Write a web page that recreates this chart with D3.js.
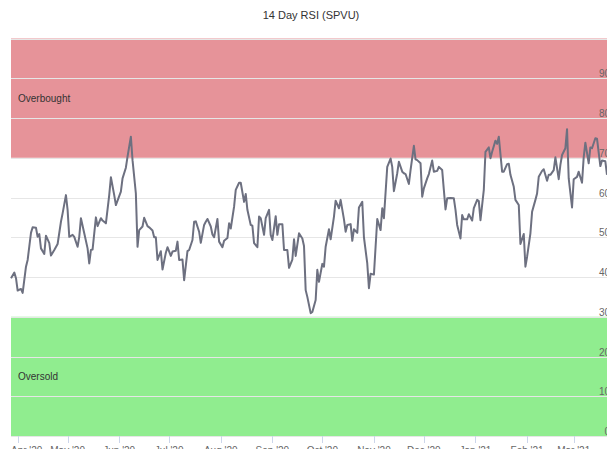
<!DOCTYPE html>
<html>
<head>
<meta charset="utf-8">
<script src="https://cdnjs.cloudflare.com/ajax/libs/d3/7.8.5/d3.min.js"></script>
<style>
    body { margin: 0; background: #fff; overflow: hidden; }
    svg { display: block; font-family: "Liberation Sans", Arial, sans-serif; }
</style>
</head>
<body>
<div id="chart"></div>
<script>

// Data
var title = "14 Day RSI (SPVU)";

var dates = [
    "2020-03-28","2020-03-30","2020-03-31","2020-04-01","2020-04-03","2020-04-04","2020-04-06","2020-04-07","2020-04-09","2020-04-10","2020-04-12","2020-04-13","2020-04-14","2020-04-15","2020-04-17","2020-04-18","2020-04-20","2020-04-21","2020-04-23","2020-04-25","2020-04-27","2020-04-28","2020-04-30",
    "2020-05-01","2020-05-02","2020-05-04","2020-05-05","2020-05-07","2020-05-08","2020-05-09","2020-05-11","2020-05-13","2020-05-14","2020-05-15","2020-05-16","2020-05-18","2020-05-19","2020-05-21","2020-05-22","2020-05-24","2020-05-26","2020-05-27","2020-05-29","2020-05-30",
    "2020-06-02","2020-06-03","2020-06-05","2020-06-06","2020-06-08","2020-06-09","2020-06-11","2020-06-12","2020-06-13","2020-06-15","2020-06-16","2020-06-18","2020-06-19","2020-06-21","2020-06-22","2020-06-23","2020-06-24","2020-06-26","2020-06-27","2020-06-29","2020-06-30",
    "2020-07-02","2020-07-03","2020-07-05","2020-07-06","2020-07-07","2020-07-09","2020-07-10","2020-07-12","2020-07-13","2020-07-15","2020-07-16","2020-07-17","2020-07-19","2020-07-20","2020-07-22","2020-07-23","2020-07-24","2020-07-26","2020-07-27","2020-07-28","2020-07-30","2020-07-31",
    "2020-08-02","2020-08-03","2020-08-05","2020-08-06","2020-08-07","2020-08-09","2020-08-10","2020-08-12","2020-08-13","2020-08-15","2020-08-16","2020-08-17","2020-08-19","2020-08-20","2020-08-21","2020-08-23","2020-08-24","2020-08-25","2020-08-27","2020-08-28","2020-08-30","2020-08-31",
    "2020-09-01","2020-09-03","2020-09-04","2020-09-05","2020-09-07","2020-09-08","2020-09-10","2020-09-11","2020-09-13","2020-09-14","2020-09-15","2020-09-17","2020-09-19","2020-09-20","2020-09-21","2020-09-22","2020-09-24","2020-09-25","2020-09-27","2020-09-28","2020-09-29",
    "2020-10-01","2020-10-02","2020-10-03","2020-10-05","2020-10-06","2020-10-08","2020-10-09","2020-10-11","2020-10-12","2020-10-14","2020-10-15","2020-10-16","2020-10-18","2020-10-19","2020-10-20","2020-10-22","2020-10-23","2020-10-25","2020-10-26","2020-10-28","2020-10-29","2020-10-30",
    "2020-11-01","2020-11-02","2020-11-03","2020-11-05","2020-11-06","2020-11-07","2020-11-09","2020-11-11","2020-11-12","2020-11-13","2020-11-15","2020-11-16","2020-11-18","2020-11-19","2020-11-20","2020-11-22","2020-11-23","2020-11-25","2020-11-26","2020-11-27","2020-11-29","2020-11-30",
    "2020-12-01","2020-12-03","2020-12-04","2020-12-06","2020-12-07","2020-12-09","2020-12-10","2020-12-12","2020-12-13","2020-12-14","2020-12-15","2020-12-17","2020-12-19","2020-12-20","2020-12-21","2020-12-23","2020-12-24","2020-12-25","2020-12-27","2020-12-28","2020-12-30","2020-12-31",
    "2021-01-02","2021-01-03","2021-01-04","2021-01-06","2021-01-07","2021-01-09","2021-01-10","2021-01-11","2021-01-13","2021-01-14","2021-01-15","2021-01-17","2021-01-18","2021-01-20","2021-01-21","2021-01-22","2021-01-24","2021-01-25","2021-01-27","2021-01-28","2021-01-30","2021-01-31",
    "2021-02-01","2021-02-03","2021-02-04","2021-02-06","2021-02-07","2021-02-08","2021-02-10","2021-02-11","2021-02-13","2021-02-14","2021-02-15","2021-02-17","2021-02-18","2021-02-20","2021-02-21","2021-02-22","2021-02-24","2021-02-25","2021-02-26","2021-02-28",
    "2021-03-01","2021-03-03","2021-03-04","2021-03-06","2021-03-07","2021-03-08","2021-03-10","2021-03-11","2021-03-12","2021-03-14","2021-03-15","2021-03-17","2021-03-18","2021-03-20","2021-03-21"
];

var rsi = [
    39.7, 41.1, 39.7, 36.6, 37, 36, 42.6, 44.3, 51.1, 52.5, 52.4, 50.1, 50.8, 47.2, 45.8, 50.4, 48.5, 45.4, 46.8, 48.3, 53.9, 56, 60.6,
    56.9, 50.1, 50.6, 50.1, 47.6, 50.1, 54.8, 51, 47.2, 43.4, 46.8, 46.9, 55, 52.8, 54.8, 54.2, 53.5, 60.6, 65.1, 60.6, 58.1,
    61.5, 64.8, 67.5, 70.3, 75.3, 69.4, 61, 47.6, 51.8, 52.7, 54.9, 52.8, 52.5, 51.7, 50, 50, 44.3, 46.5, 41.9, 46.1, 47.5,
    45.3, 46.4, 46.6, 48.9, 44.3, 44.4, 39.2, 46.5, 46.8, 49.3, 53.9, 54, 51.4, 48.6, 53.1, 53.9, 54.6, 52.7, 50.7, 50, 54.6, 48.9,
    47.5, 49.1, 49.8, 53.5, 52.2, 57.7, 61.9, 63.7, 63.7, 58.9, 60.9, 56.9, 53.1, 52.9, 48.5, 47.5, 55.2, 54.8, 50.6, 54.8, 56.9, 50.6,
    49.3, 55.3, 50.6, 53.3, 53.3, 46.8, 46.8, 42.3, 44.4, 49.5, 45.3, 51, 49.7, 47.8, 36.7, 35, 30.9, 31.2, 34.2, 41.8, 38.8,
    43.3, 42.6, 47.6, 52, 49.5, 55.2, 59.2, 57.3, 59.4, 54.5, 51.4, 53.1, 53.3, 49.1, 52, 51.1, 57.5, 58.9, 50, 43.4, 37.2, 40.8,
    40.6, 47.6, 54.6, 51.8, 57.3, 54.8, 67.7, 69.8, 67.7, 61.6, 66.1, 69, 66.5, 66.1, 65.9, 63.4, 66.9, 73, 69.6, 69.4, 68.6, 60.2,
    62.3, 64.8, 65.9, 69.3, 66.5, 66.7, 67.7, 66.9, 61.9, 57, 59.8, 59.9, 59.8, 56.9, 53.1, 49.7, 55.6, 54.5, 54.5, 55.8, 54.2, 57.3,
    59.4, 59.1, 54.3, 61.9, 71.5, 72.6, 69.9, 71.5, 74.3, 73.5, 75.3, 66.5, 66.5, 68.4, 68.5, 65.7, 62.7, 59.4, 58.1, 48.3, 50.8, 42.6,
    45.1, 51, 56.4, 59.4, 61, 65.2, 66.7, 67.1, 64.2, 65.7, 65.7, 66.9, 70.1, 64.6, 68.2, 70.7, 72.4, 77.2, 64.8, 57.5,
    64.6, 65.2, 66.5, 63.7, 70.1, 73.8, 68.6, 72.6, 72.4, 74.9, 74.8, 67.9, 69.3, 69.1, 65.7
];

var yTicks = [0, 10, 20, 30, 40, 50, 60, 70, 80, 90, 100];

// zones drawn behind the line
var bandNames = ["Overbought", "Oversold"];
var bandFrom = [70, 0];
var bandTo = [100, 30];

var xStart = "2020-03-28",
    xEnd = "2021-03-21";

// SVG drawing area
var width = 607,
    height = 449;

var plot = { left: 11, right: 607, top: 38.5, bottom: 436 };

var bandColors = ["#e69399", "#90ed8f"];

var parseDate = d3.timeParse("%Y-%m-%d");

var data = dates.map(function(d, i) {
    return { date: parseDate(d), value: rsi[i] };
});

var svg = d3.select("#chart").append("svg")
    .attr("width", width)
    .attr("height", height);

var x = d3.scaleTime()
    .domain([parseDate(xStart), parseDate(xEnd)])
    .range([plot.left, plot.right]);

var y = d3.scaleLinear()
    .domain([0, 100])
    .range([plot.bottom, plot.top]);

// Title
svg.append("text")
    .attr("x", 311)
    .attr("y", 19)
    .attr("text-anchor", "middle")
    .style("font-size", "11px")
    .style("fill", "#333333")
    .text(title);

// Bands
svg.selectAll(".band")
    .data(bandNames)
    .enter().append("rect")
    .attr("class", "band")
    .attr("x", plot.left)
    .attr("y", function(d, i) { return y(bandTo[i]); })
    .attr("width", 620 - plot.left)
    .attr("height", function(d, i) { return y(bandFrom[i]) - y(bandTo[i]); })
    .attr("fill", function(d, i) { return bandColors[i]; });

// Grid lines
svg.selectAll(".grid")
    .data(yTicks)
    .enter().append("line")
    .attr("class", "grid")
    .attr("x1", plot.left)
    .attr("x2", 620)
    .attr("y1", function(d) { return Math.round(y(d)) + 0.5; })
    .attr("y2", function(d) { return Math.round(y(d)) + 0.5; })
    .style("stroke", "#e6e6e6")
    .style("stroke-width", 1);

// Band labels
svg.selectAll(".bandLabel")
    .data(bandNames)
    .enter().append("text")
    .attr("class", "bandLabel")
    .attr("x", plot.left + 7)
    .attr("y", function(d, i) { return (y(bandFrom[i]) + y(bandTo[i])) / 2 + 4; })
    .style("font-size", "10px")
    .style("fill", "#333333")
    .text(function(d) { return d; });

// Y axis labels (right side, partly past the window edge)
svg.selectAll(".yLabel")
    .data(yTicks.filter(function(d) { return d < 100; }))
    .enter().append("text")
    .attr("class", "yLabel")
    .attr("x", 610)
    .attr("y", function(d) { return y(d) - 1; })
    .attr("text-anchor", "end")
    .style("font-size", "10px")
    .style("fill", "#666666")
    .text(function(d) { return d; });

// X axis
var monthTicks = x.ticks(d3.timeMonth.every(1));
var fmt = d3.timeFormat("%b '%y");

svg.selectAll(".xTick")
    .data(monthTicks)
    .enter().append("line")
    .attr("class", "xTick")
    .attr("x1", function(d) { return Math.round(x(d)) + 0.5; })
    .attr("x2", function(d) { return Math.round(x(d)) + 0.5; })
    .attr("y1", plot.bottom)
    .attr("y2", plot.bottom + 7)
    .style("stroke", "#ccd6eb");

var xLabels = svg.selectAll(".xLabel")
    .data(monthTicks)
    .enter().append("text")
    .attr("class", "xLabel")
    .attr("x", function(d) { return x(d); })
    .attr("y", plot.bottom + 18)
    .attr("text-anchor", "middle")
    .style("font-size", "10px")
    .style("fill", "#666666")
    .text(function(d) { return fmt(d); });

// keep the first label inside the plot edge
xLabels.each(function(d) {
    var w = this.getComputedTextLength();
    if (x(d) - w / 2 < plot.left) {
        d3.select(this).attr("text-anchor", "start").attr("x", plot.left);
    }
});

// RSI line
var line = d3.line()
    .x(function(d) { return x(d.date); })
    .y(function(d) { return y(d.value); });

svg.append("path")
    .datum(data)
    .attr("d", line)
    .style("fill", "none")
    .style("stroke", "#6d7080")
    .style("stroke-width", 2)
    .style("stroke-linejoin", "round");

</script>
</body>
</html>
